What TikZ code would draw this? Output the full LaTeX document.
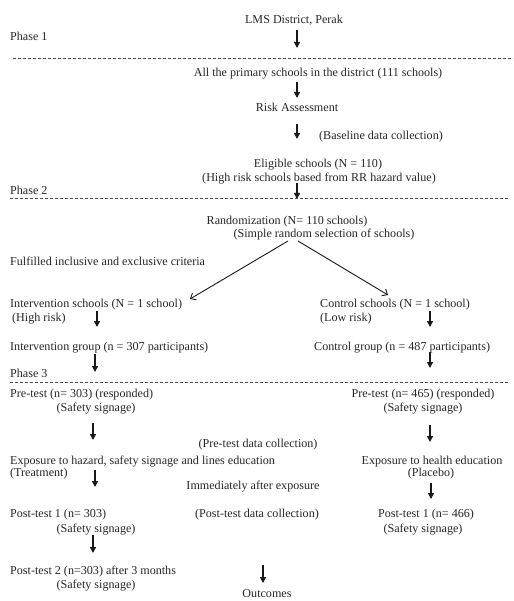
\documentclass[tikz,border=0pt]{standalone}
\usepackage{fontspec}
\setmainfont{Liberation Serif}
\usetikzlibrary{arrows.meta}
\begin{document}
\begin{tikzpicture}[x=1pt,y=-1pt,
  txt/.style={inner sep=0pt, font=\fontsize{12.1}{14}\selectfont, text height=8.5pt, text depth=3pt, text=black!85, yshift=-1.5pt},
  lt/.style={txt, anchor=west},
  ct/.style={txt, anchor=center},
  arr/.style={-{Triangle[length=6pt,width=6pt]}, line width=1.3pt, black!90},
  darr/.style={-{Straight Barb[length=4.5pt,width=8pt]}, line width=0.9pt, black!90},
  sep/.style={dashed, dash pattern=on 3pt off 2pt, line width=0.6pt, black!70}]
\useasboundingbox (0,0) rectangle (513,601);

% Phase 1
\node[ct] (lms) at (294,19) {LMS District, Perak};
\node[lt] (ph1) at (10,36) {Phase 1};
\coordinate (a1s) at (297,30); \coordinate (a1e) at (297,48);
\draw[arr] (a1s) -- (a1e);
\coordinate (d1l) at (13,58); \coordinate (d1r) at (513,58);
\draw[sep] (d1l) -- (d1r);
\node[ct] (all) at (318,72) {All the primary schools in the district (111 schools)};
\coordinate (a2s) at (297,82); \coordinate (a2e) at (297,98);
\draw[arr] (a2s) -- (a2e);
\node[ct] (risk) at (297,107) {Risk Assessment};
\coordinate (a3s) at (297,124); \coordinate (a3e) at (297,139);
\draw[arr] (a3s) -- (a3e);
\node[ct] (base) at (381,135) {(Baseline data collection)};
\node[ct] (elig) at (318,163) {Eligible schools (N = 110)};
\node[ct] (high) at (319,177) {(High risk schools based from RR hazard value)};
\node[lt] (ph2) at (10,190) {Phase 2};
\coordinate (a4s) at (297,183); \coordinate (a4e) at (297,199);
\draw[arr] (a4s) -- (a4e);
\coordinate (d2l) at (10,198); \coordinate (d2r) at (510,198);
\draw[sep] (d2l) -- (d2r);

% Phase 2
\node[ct] (rand) at (287,220) {Randomization (N= 110 schools)};
\node[ct] (simp) at (324,233) {(Simple random selection of schools)};
\coordinate (bl) at (288,241); \coordinate (br) at (298,241);
\coordinate (tl) at (190,299); \coordinate (tr) at (388,295);
\draw[darr] (bl) -- (tl);
\draw[darr] (br) -- (tr);
\node[lt] (crit) at (10,261) {Fulfilled inclusive and exclusive criteria};
\node[lt] (ints) at (10,303) {Intervention schools (N = 1 school)};
\node[lt] (hr) at (12,317) {(High risk)};
\coordinate (a5s) at (97,311); \coordinate (a5e) at (97,327);
\draw[arr] (a5s) -- (a5e);
\node[lt] (cons) at (320,303) {Control schools (N = 1 school)};
\node[lt] (lr) at (320,317) {(Low risk)};
\coordinate (a6s) at (430,311); \coordinate (a6e) at (430,327);
\draw[arr] (a6s) -- (a6e);
\node[lt] (intg) at (10,346) {Intervention group (n = 307 participants)};
\node[lt] (cong) at (314,346) {Control group (n = 487 participants)};
\coordinate (a7s) at (95,354); \coordinate (a7e) at (95,372);
\draw[arr] (a7s) -- (a7e);
\coordinate (a8s) at (430,352); \coordinate (a8e) at (430,368);
\draw[arr] (a8s) -- (a8e);
\node[lt] (ph3) at (10,373) {Phase 3};
\coordinate (d3l) at (10,382); \coordinate (d3r) at (510,382);
\draw[sep] (d3l) -- (d3r);

% Phase 3
\node[lt] (pre1) at (10,393) {Pre-test (n= 303) (responded)};
\node[ct] (pre1s) at (96,407) {(Safety signage)};
\coordinate (a9s) at (93,423); \coordinate (a9e) at (93,440);
\draw[arr] (a9s) -- (a9e);
\node[ct] (prec) at (258,443) {(Pre-test data collection)};
\node[lt] (exph) at (10,460) {Exposure to hazard, safety signage and lines education};
\node[lt] (treat) at (10,472) {(Treatment)};
\node[ct] (pre2) at (423,393) {Pre-test (n= 465) (responded)};
\node[ct] (pre2s) at (423,407) {(Safety signage)};
\coordinate (a10s) at (430,425); \coordinate (a10e) at (430,442);
\draw[arr] (a10s) -- (a10e);
\node[ct] (exphe) at (432,460) {Exposure to health education};
\node[ct] (plac) at (431,472) {(Placebo)};
\coordinate (a11s) at (95,470); \coordinate (a11e) at (95,487);
\draw[arr] (a11s) -- (a11e);
\node[ct] (imm) at (253,485) {Immediately after exposure};
\coordinate (a12s) at (431,483); \coordinate (a12e) at (431,499);
\draw[arr] (a12s) -- (a12e);
\node[lt] (post1) at (10,513) {Post-test 1 (n= 303)};
\node[ct] (post1s) at (96,528) {(Safety signage)};
\node[ct] (postc) at (257,513) {(Post-test data collection)};
\node[ct] (post2) at (426,513) {Post-test 1 (n= 466)};
\node[ct] (post2s) at (423,528) {(Safety signage)};
\coordinate (a13s) at (93,535); \coordinate (a13e) at (93,553);
\draw[arr] (a13s) -- (a13e);
\node[lt] (post3) at (10,570) {Post-test 2 (n=303) after 3 months};
\node[ct] (post3s) at (96,584) {(Safety signage)};
\coordinate (a14s) at (263,565); \coordinate (a14e) at (263,583);
\draw[arr] (a14s) -- (a14e);
\node[ct] (out) at (267,593) {Outcomes};
\end{tikzpicture}
\end{document}
